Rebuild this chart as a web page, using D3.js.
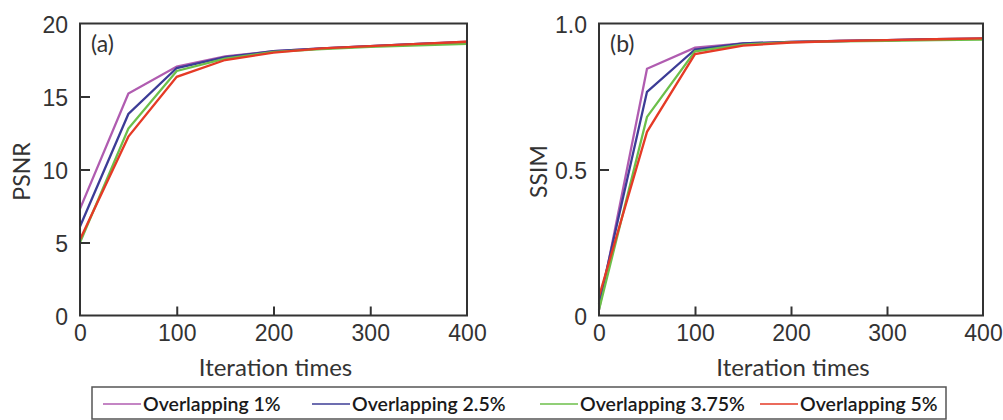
<!DOCTYPE html>
<html>
<head>
<meta charset="utf-8">
<script src="https://cdn.jsdelivr.net/npm/d3@7"></script>
<style>
  html, body { margin: 0; padding: 0; background: #fff; }
  svg { display: block; font-family: Lato, "Open Sans", sans-serif; }
</style>
</head>
<body>
<svg id="chart" width="1003" height="420"></svg>
<script>
// Iteration counts sampled for both metrics
const iterations = [0, 50, 100, 150, 200, 250, 300, 350, 400];

// Series names and line colours
const seriesNames = ["Overlapping 1%", "Overlapping 2.5%", "Overlapping 3.75%", "Overlapping 5%"];
const seriesColors = ["#b05cb0", "#3c3c96", "#6cbf4a", "#e53a26"];

// PSNR per overlap ratio
const psnr1   = [7.3, 15.2, 17.05, 17.75, 18.1, 18.3, 18.45, 18.6, 18.75];
const psnr25  = [6.1, 13.8, 16.95, 17.7, 18.1, 18.3, 18.45, 18.6, 18.72];
const psnr375 = [5.0, 12.8, 16.75, 17.6, 18.05, 18.25, 18.4, 18.5, 18.6];
const psnr5   = [5.2, 12.25, 16.35, 17.5, 18.0, 18.3, 18.45, 18.6, 18.75];

// SSIM per overlap ratio
const ssim1   = [0.02, 0.845, 0.917, 0.932, 0.937, 0.94, 0.943, 0.946, 0.948];
const ssim25  = [0.04, 0.766, 0.911, 0.932, 0.937, 0.94, 0.943, 0.946, 0.948];
const ssim375 = [0.02, 0.68, 0.905, 0.928, 0.936, 0.939, 0.941, 0.943, 0.945];
const ssim5   = [0.065, 0.629, 0.895, 0.924, 0.935, 0.94, 0.943, 0.946, 0.949];

// Axis ticks
const xTicks = [0, 100, 200, 300, 400];
const psnrTicks = [0, 5, 10, 15, 20];
const ssimTicks = [0, 0.5, 1.0];
const ssimTickLabels = ["0", "0.5", "1.0"];

const svg = d3.select("#chart");
const ink = "#333";

function panel(opts) {
  const { left, right, top, bottom, yDomain, yTicks, yFormat, series, yLabel, tag, yLabelX } = opts;
  const x = d3.scaleLinear().domain([0, 400]).range([left, right]);
  const y = d3.scaleLinear().domain(yDomain).range([bottom, top]);
  const g = svg.append("g");

  // data lines
  const line = d3.line().x((d, i) => x(iterations[i])).y(d => y(d));
  series.forEach((s, k) => {
    g.append("path")
      .attr("d", line(s))
      .attr("fill", "none")
      .attr("stroke", seriesColors[k])
      .attr("stroke-width", 2.3)
      .attr("stroke-linejoin", "miter");
  });

  // inward ticks on bottom and left
  const xAxis = d3.axisBottom(x).tickValues(xTicks).tickSize(-9).tickPadding(10).tickFormat(d3.format("d"));
  const gx = g.append("g").attr("transform", `translate(0,${bottom})`).call(xAxis);
  gx.select(".domain").remove();
  gx.selectAll(".tick line").attr("stroke", ink).attr("stroke-width", 2)
    .filter(d => d === 0 || d === 400).remove();
  gx.selectAll(".tick text").attr("fill", ink).attr("font-size", 23).attr("dy", "0.9em").attr("y", 5);

  const yAxis = d3.axisLeft(y).tickValues(yTicks).tickSize(-10).tickPadding(12).tickFormat(yFormat);
  const gy = g.append("g").attr("transform", `translate(${left},0)`).call(yAxis);
  gy.select(".domain").remove();
  gy.selectAll(".tick line").attr("stroke", ink).attr("stroke-width", 2)
    .filter(d => d === yDomain[0] || d === yDomain[1]).remove();
  gy.selectAll(".tick text").attr("fill", ink).attr("font-size", 23).attr("dy", "0.38em");

  // frame
  g.append("rect")
    .attr("x", left).attr("y", top)
    .attr("width", right - left).attr("height", bottom - top)
    .attr("fill", "none").attr("stroke", ink).attr("stroke-width", 2);

  // labels
  g.append("text")
    .attr("x", (left + right) / 2 + 2).attr("y", 376)
    .attr("text-anchor", "middle").attr("fill", ink).attr("font-size", 24)
    .text("Iteration times");
  g.append("text")
    .attr("transform", `translate(${yLabelX},${(top + bottom) / 2 + 2}) rotate(-90)`)
    .attr("text-anchor", "middle").attr("fill", ink).attr("font-size", 23)
    .text(yLabel);
  g.append("text")
    .attr("x", left + 11).attr("y", top + 28)
    .attr("fill", ink).attr("font-size", 23)
    .text(tag);
}

panel({
  left: 80, right: 467, top: 23.5, bottom: 315.5,
  yDomain: [0, 20], yTicks: psnrTicks, yFormat: d3.format("d"),
  series: [psnr1, psnr25, psnr375, psnr5],
  yLabel: "PSNR", tag: "(a)", yLabelX: 30
});

panel({
  left: 599, right: 983, top: 23.5, bottom: 315.5,
  yDomain: [0, 1], yTicks: ssimTicks, yFormat: (d, i) => ssimTickLabels[i],
  series: [ssim1, ssim25, ssim375, ssim5],
  yLabel: "SSIM", tag: "(b)", yLabelX: 547
});

// legend
const legendStarts = [103, 312, 540, 760];
const lg = svg.append("g");
lg.append("rect")
  .attr("x", 92).attr("y", 387).attr("width", 854).attr("height", 32)
  .attr("fill", "#fff").attr("stroke", "#555").attr("stroke-width", 1.5);
seriesNames.forEach((name, k) => {
  const x0 = legendStarts[k];
  lg.append("line")
    .attr("x1", x0).attr("x2", x0 + 38)
    .attr("y1", 404).attr("y2", 404)
    .attr("stroke", seriesColors[k]).attr("stroke-width", 1.5);
  lg.append("text")
    .attr("x", x0 + 40).attr("y", 404).attr("dy", "0.36em")
    .attr("fill", "#1a1a1a").attr("font-size", 19.5).attr("font-weight", 600)
    .text(name);
});
</script>
</body>
</html>
